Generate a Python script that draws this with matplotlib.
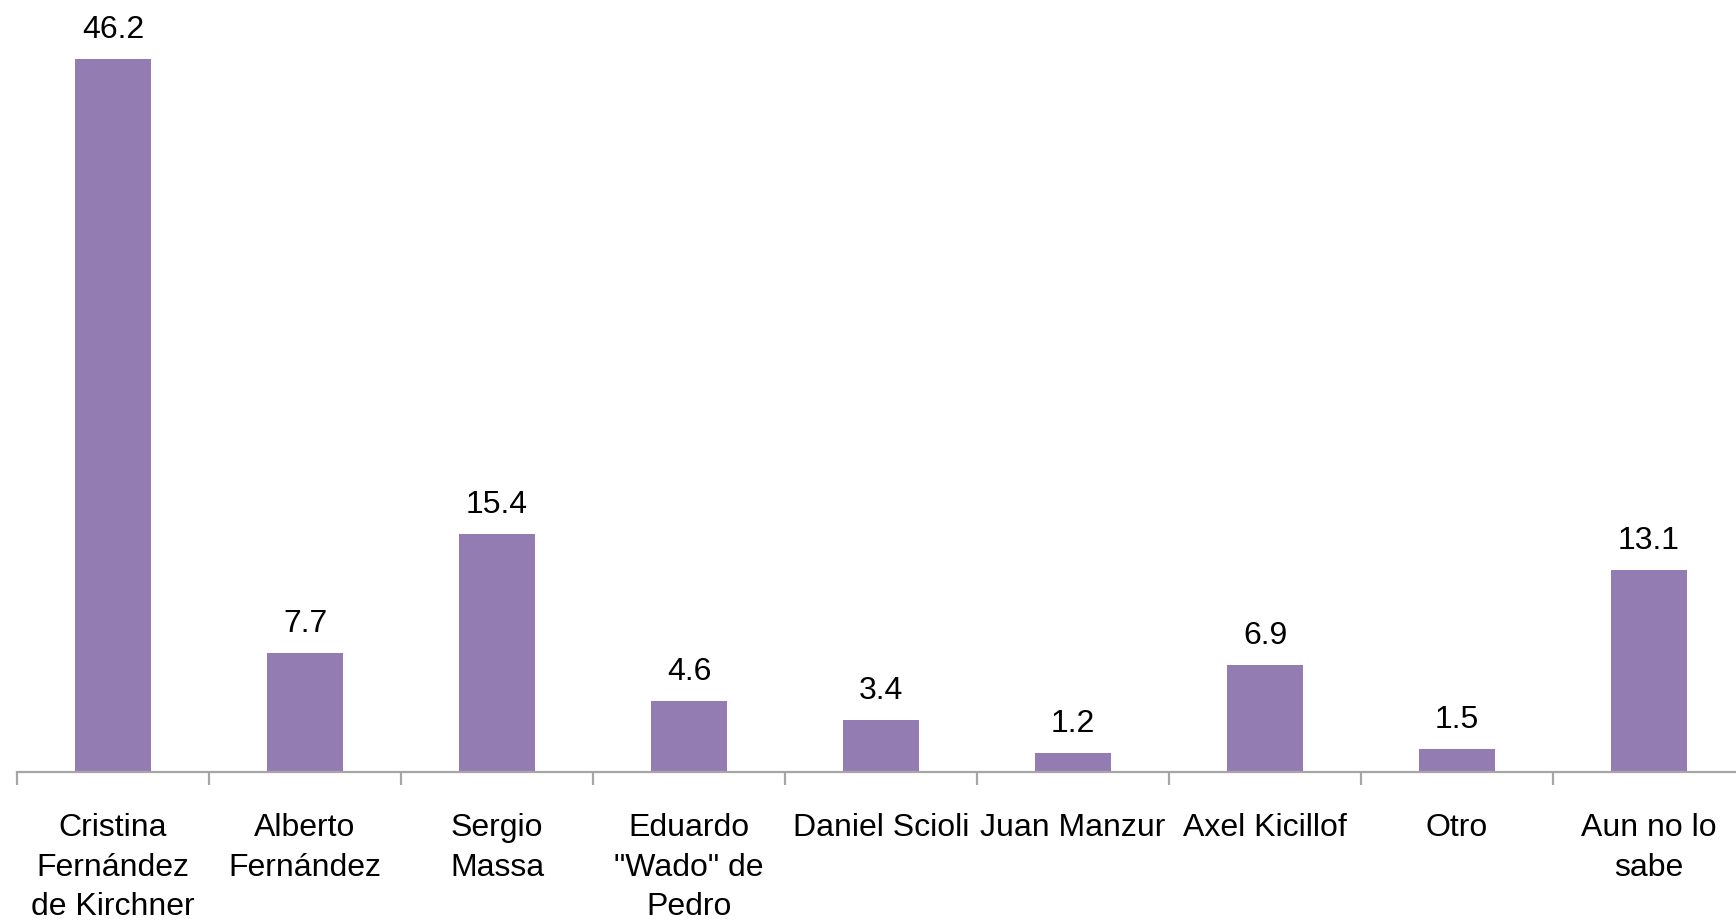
import matplotlib
matplotlib.use("Agg")
import matplotlib.pyplot as plt
import numpy as np

categories = ["Cristina\nFernández\nde Kirchner", "Alberto\nFernández", "Sergio\nMassa",
              "Eduardo\n\"Wado\" de\nPedro", "Daniel Scioli", "Juan Manzur",
              "Axel Kicillof", "Otro", "Aun no lo\nsabe"]
values = [46.2, 7.7, 15.4, 4.6, 3.4, 1.2, 6.9, 1.5, 13.1]
value_labels = ["46.2", "7.7", "15.4", "4.6", "3.4", "1.2", "6.9", "1.5", "13.1"]

plt.rcParams['font.family'] = ['Liberation Sans', 'DejaVu Sans']

W, H = 1736, 921
fig = plt.figure(figsize=(W / 100, H / 100), dpi=100)
ax = fig.add_axes([17 / W, 149 / H, 1728 / W, 772 / H])

x = np.arange(len(categories))
bar_color = "#937cb1"
ax.bar(x, values, width=0.40, color=bar_color)

ax.set_xlim(-0.5, len(categories) - 0.5)
ax.set_ylim(0, 50)

for xi, v, lab in zip(x, values, value_labels):
    ax.annotate(lab, (xi, v), xytext=(0, 21), textcoords="offset pixels",
                ha="center", va="baseline", fontsize=23, color="black")

for s in ["top", "right", "left"]:
    ax.spines[s].set_visible(False)
axis_col = "#a6a6a6"
ax.spines["bottom"].set_color(axis_col)
ax.spines["bottom"].set_linewidth(1.6)
ax.set_yticks([])

ax.set_xticks(x)
ax.set_xticklabels(categories, fontsize=23, linespacing=1.42)
ax.tick_params(axis="x", which="major", length=0, pad=29.5, colors="black")
ax.set_xticks(np.arange(-0.5, len(categories) + 0.5, 1.0), minor=True)
ax.tick_params(axis="x", which="minor", length=9, width=1.6, color=axis_col, direction="out")

fig.savefig("out.png", dpi=100)
